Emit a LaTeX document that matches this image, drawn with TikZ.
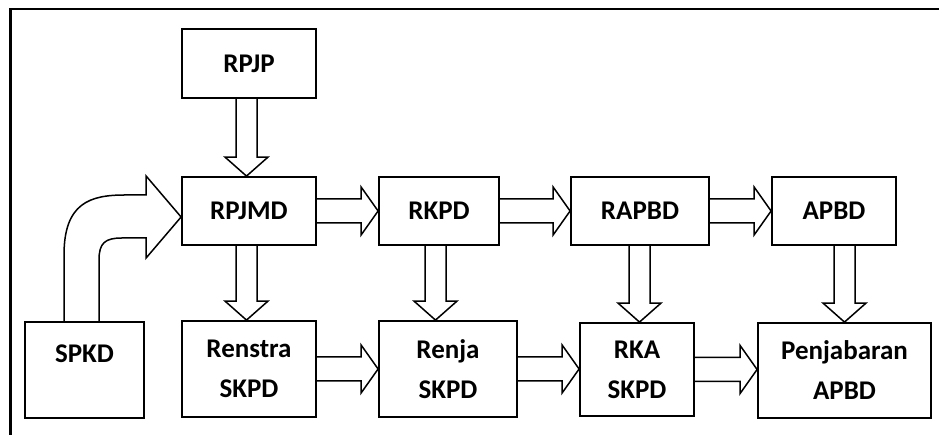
\documentclass[tikz,border=0pt]{standalone}
\usepackage{fontspec}
\setmainfont{Carlito}
\usetikzlibrary{calc}
\tikzset{
  box/.style={draw, line width=1.8pt, inner sep=0pt, align=center,
    font=\bfseries\fontsize{27}{40}\selectfont},
  blk/.style={draw, line width=1.5pt, line join=miter},
  frame/.style={line width=2.2pt}
}
\newcommand\hblk[2]{%
  \draw[blk] let \p1=(#1.east), \p2=(#2.west) in
    (\x1,\y1+12pt) -- (\x2-17pt,\y1+12pt) -- (\x2-17pt,\y1+24pt) -- (\x2,\y1)
    -- (\x2-17pt,\y1-24pt) -- (\x2-17pt,\y1-12pt) -- (\x1,\y1-12pt);}
\newcommand\vblk[3]{%
  \draw[blk] let \p1=(#1.south), \p2=(#2.north) in
    (#3pt-10.5pt,\y1) -- (#3pt-10.5pt,\y2+19pt) -- (#3pt-21.5pt,\y2+19pt) -- (#3pt,\y2)
    -- (#3pt+21.5pt,\y2+19pt) -- (#3pt+10.5pt,\y2+19pt) -- (#3pt+10.5pt,\y1);}
\begin{document}
\begin{tikzpicture}[x=1pt,y=1pt]
\useasboundingbox (0,0) rectangle (939,435);
\coordinate (fa) at (10.5,0);
\coordinate (fb) at (10.5,426);
\coordinate (fc) at (939,426);
\draw[frame] (fa) -- (fb) -- (fc);

\node[box, minimum width=134, minimum height=69] (rpjp) at (249,371.5) {RPJP};
\node[box, minimum width=134, minimum height=68] (rpjmd) at (249,224) {RPJMD};
\node[box, minimum width=120, minimum height=68] (rkpd) at (439,224) {RKPD};
\node[box, minimum width=138, minimum height=68] (rapbd) at (640,224) {RAPBD};
\node[box, minimum width=124, minimum height=68] (apbd) at (834,224) {APBD};
\node[box, minimum width=119, minimum height=96, anchor=north] (spkd) at (84.5,114) {};
\node[font=\bfseries\fontsize{27}{40}\selectfont] (spkdt) at (84.5,81) {SPKD};
\node[box, minimum width=134, minimum height=96] (renstra) at (249,66) {Renstra\\SKPD};
\node[box, minimum width=138, minimum height=96] (renja) at (448,66) {Renja\\SKPD};
\node[box, minimum width=114, minimum height=93] (rka) at (637,65.5) {RKA\\SKPD};
\node[box, minimum width=173, minimum height=95] (penj) at (844.5,64.5) {Penjabaran\\APBD};

\vblk{rpjp}{rpjmd}{246.5}
\vblk{rpjmd}{renstra}{246.5}
\vblk{rkpd}{renja}{435.5}
\vblk{rapbd}{rka}{639.5}
\vblk{apbd}{penj}{844.5}

\hblk{rpjmd}{rkpd}
\hblk{rkpd}{rapbd}
\hblk{rapbd}{apbd}
\hblk{renstra}{renja}
\hblk{renja}{rka}
\hblk{rka}{penj}

\draw[blk] let \p1=(spkd.north), \p2=(rpjmd.west) in
  (\x1-20.5pt,\y1) -- (\x1-20.5pt,180)
  .. controls (\x1-20.5pt,232) and (90,240) .. (125,240)
  -- (\x2-35pt,240) -- (\x2-35pt,259) -- (\x2,\y2-6pt)
  -- (\x2-35pt,177) -- (\x2-35pt,197) -- (122,197)
  .. controls (105,197) and (\x1+14.5pt,192) .. (\x1+14.5pt,175)
  -- (\x1+14.5pt,\y1);
\end{tikzpicture}
\end{document}
